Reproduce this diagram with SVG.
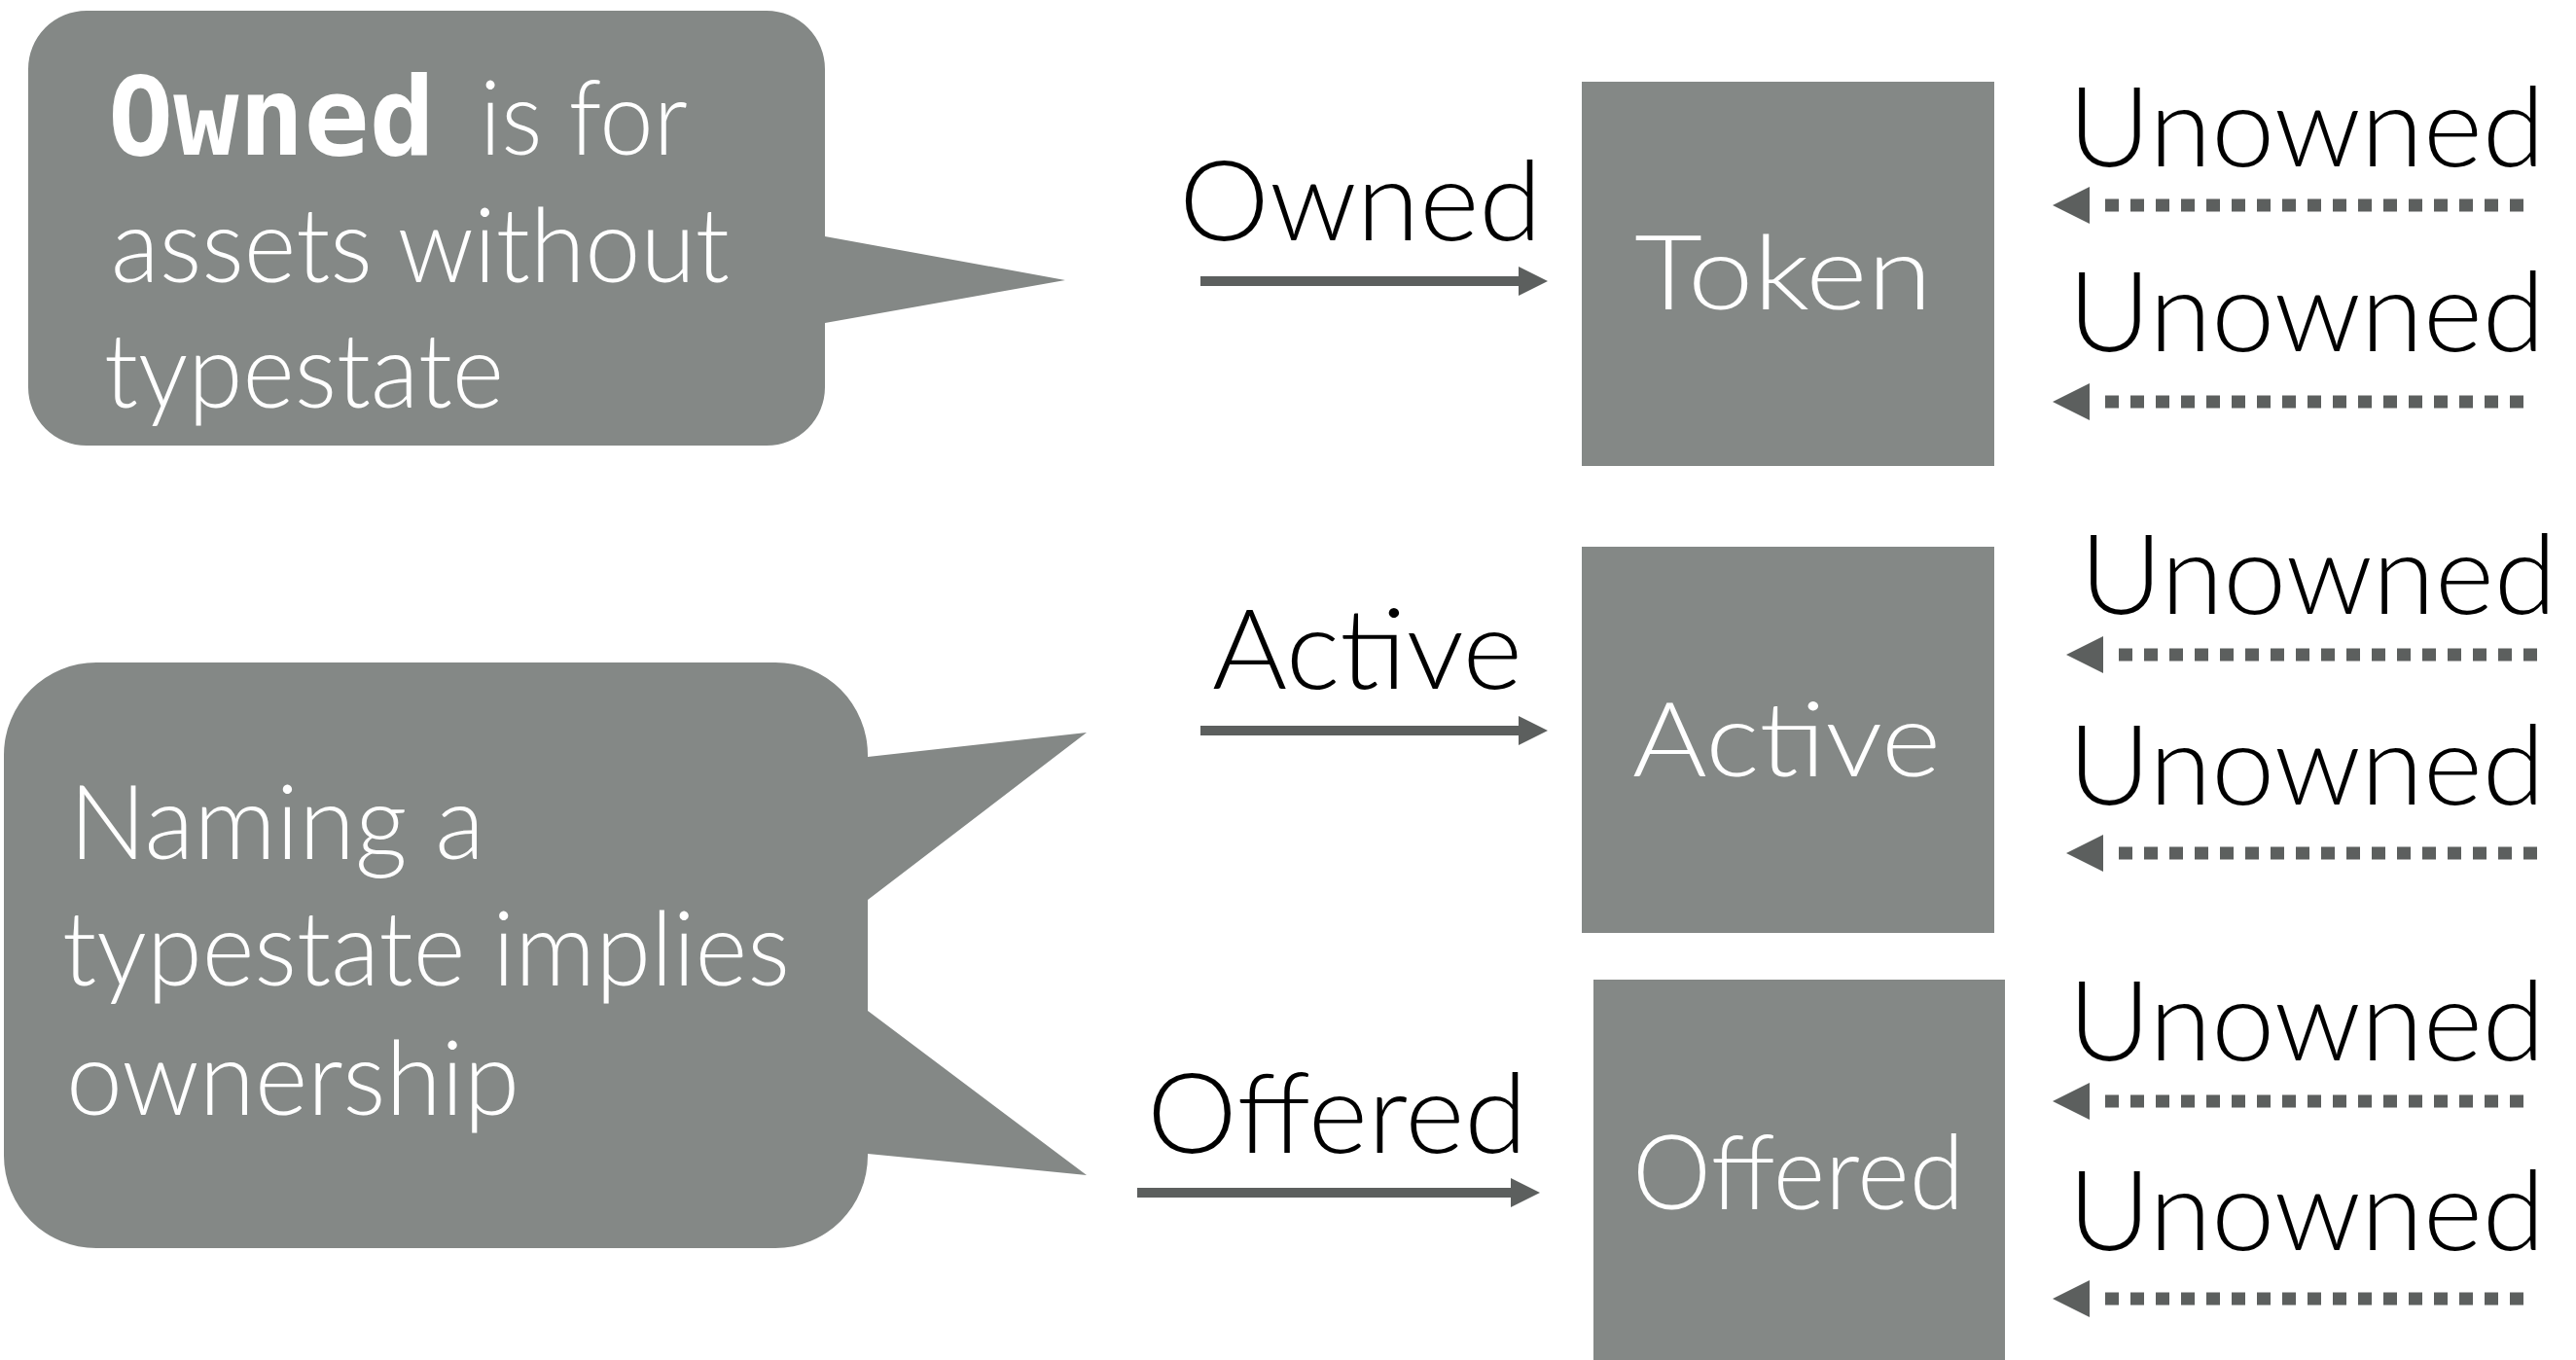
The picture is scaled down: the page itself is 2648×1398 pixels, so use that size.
<svg xmlns="http://www.w3.org/2000/svg" width="2648" height="1398" viewBox="0 0 2648 1398">
<style>
.shape{fill:#848886;stroke:none}
.wt{fill:#ffffff;font-family:Lato,"Liberation Sans",sans-serif;font-weight:300;font-size:106px}
.mono{fill:#ffffff;font-family:"DejaVu Sans Mono","Liberation Mono",monospace;font-weight:bold;font-size:112px}
.lbl{fill:#000000;font-family:Lato,"Liberation Sans",sans-serif;font-weight:300;font-size:115px}
.solid{stroke:#5c5f5e;stroke-width:10;fill:none;marker-end:url(#headSolid)}
.dotted{stroke:#5c5f5e;stroke-width:13;fill:none;stroke-dasharray:14 12;marker-end:url(#headDot)}
</style>
<defs>
<marker id="headSolid" markerUnits="userSpaceOnUse" markerWidth="30" markerHeight="30" refX="0" refY="15" orient="auto" overflow="visible">
<path d="M0,0 L30,15 L0,30 Z" fill="#5c5f5e"/>
</marker>
<marker id="headDot" markerUnits="userSpaceOnUse" markerWidth="38" markerHeight="38" refX="-16" refY="19" orient="auto" overflow="visible">
<path d="M0,0 L38,19 L0,38 Z" fill="#5c5f5e"/>
</marker>
</defs>
<rect width="2648" height="1398" fill="#ffffff"/>

<g id="bubble-owned">
<path class="shape" d="M89,11 H788 A60,60 0 0 1 848,71 V243 L1095,288 L848,332 V398 A60,60 0 0 1 788,458 H89 A60,60 0 0 1 29,398 V71 A60,60 0 0 1 89,11 Z"/>
<text class="mono" x="111" y="159" textLength="336" lengthAdjust="spacingAndGlyphs">Owned</text>
<text class="wt" x="493" y="159" textLength="214" lengthAdjust="spacingAndGlyphs">is for</text>
<text class="wt" x="114" y="290" textLength="636" lengthAdjust="spacingAndGlyphs">assets without</text>
<text class="wt" x="107" y="419" textLength="411" lengthAdjust="spacingAndGlyphs">typestate</text>
</g>

<g id="bubble-naming">
<path class="shape" d="M99,681 H797 A95,95 0 0 1 892,776 V778 L1117,753 L892,925 V1039 L1117,1208 L892,1186 V1188 A95,95 0 0 1 797,1283 H99 A95,95 0 0 1 4,1188 V776 A95,95 0 0 1 99,681 Z"/>
<text class="wt" x="71" y="883" textLength="427" lengthAdjust="spacingAndGlyphs">Naming a</text>
<text class="wt" x="64" y="1013" textLength="748" lengthAdjust="spacingAndGlyphs">typestate implies</text>
<text class="wt" x="68" y="1146" textLength="466" lengthAdjust="spacingAndGlyphs">ownership</text>
</g>

<g id="node-token">
<rect class="shape" x="1626" y="84" width="424" height="395"/>
<text class="wt" x="1680" y="318" textLength="306" lengthAdjust="spacingAndGlyphs">Token</text>
</g>

<g id="node-active">
<rect class="shape" x="1626" y="562" width="424" height="397"/>
<text class="wt" x="1678" y="798" textLength="317" lengthAdjust="spacingAndGlyphs">Active</text>
</g>

<g id="node-offered">
<rect class="shape" x="1638" y="1007" width="423" height="391"/>
<text class="wt" x="1678" y="1243" textLength="341" lengthAdjust="spacingAndGlyphs">Offered</text>
</g>

<g id="connectors">
<path class="solid" d="M1234,289 H1561"/>
<path class="solid" d="M1234,751 H1561"/>
<path class="solid" d="M1169,1226 H1553"/>
<path class="dotted" d="M2594,211 H2164"/>
<path class="dotted" d="M2594,413 H2164"/>
<path class="dotted" d="M2608,673 H2178"/>
<path class="dotted" d="M2608,877 H2178"/>
<path class="dotted" d="M2594,1132 H2164"/>
<path class="dotted" d="M2594,1335 H2164"/>
</g>

<g id="labels">
<text class="lbl" x="1212" y="247" textLength="373" lengthAdjust="spacingAndGlyphs">Owned</text>
<text class="lbl" x="1246" y="708" textLength="319" lengthAdjust="spacingAndGlyphs">Active</text>
<text class="lbl" x="1179" y="1185" textLength="391" lengthAdjust="spacingAndGlyphs">Offered</text>
<text class="lbl" x="2126" y="171" textLength="490" lengthAdjust="spacingAndGlyphs">Unowned</text>
<text class="lbl" x="2126" y="361" textLength="490" lengthAdjust="spacingAndGlyphs">Unowned</text>
<text class="lbl" x="2138" y="631" textLength="490" lengthAdjust="spacingAndGlyphs">Unowned</text>
<text class="lbl" x="2126" y="827" textLength="490" lengthAdjust="spacingAndGlyphs">Unowned</text>
<text class="lbl" x="2126" y="1090" textLength="490" lengthAdjust="spacingAndGlyphs">Unowned</text>
<text class="lbl" x="2126" y="1285" textLength="490" lengthAdjust="spacingAndGlyphs">Unowned</text>
</g>
</svg>
